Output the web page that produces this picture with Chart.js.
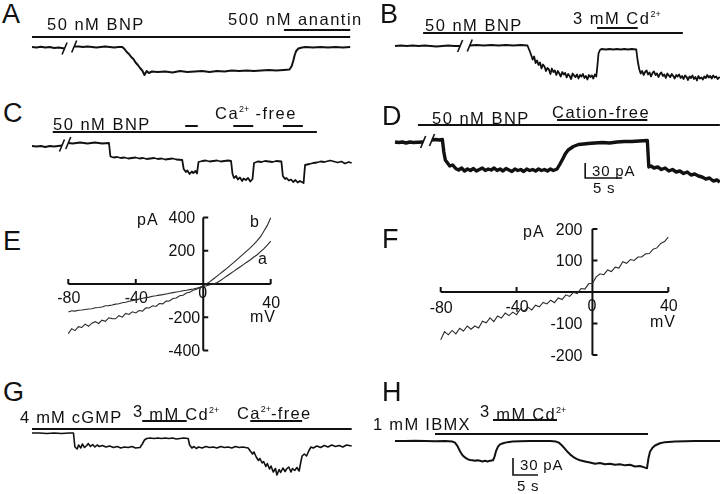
<!DOCTYPE html>
<html>
<head>
<meta charset="utf-8">
<script src="https://cdn.jsdelivr.net/npm/chart.js@4.4.0/dist/chart.umd.min.js"></script>
<style>
  body { margin: 0; background: #fff; }
  #fig { position: relative; width: 720px; height: 494px; overflow: hidden;
         font-family: "Liberation Sans", Arial, sans-serif; color: #111; }
  #fig canvas { position: absolute; }
  .t { position: absolute; white-space: nowrap; line-height: 1; z-index: 2; }
  .t sup { font-size: 9px; vertical-align: 7px; line-height: 0; letter-spacing: 0; }
</style>
</head>
<body>
<div id="fig"></div>
<script>
// ---- recordings: [time (s), current (pA)], null = break in the record ----
const traceA = [
  [0,0],[0.6,-1],[1.2,0.5],[1.8,-1],[2.4,0],[3.0,-2],[3.6,-1],[4.4,-3],[5,null],
  [5.7,1],[6.3,1],[6.9,0],[7.5,1],[8.1,0],[8.7,-1],[9.3,0],[9.9,1],[10.5,0],[11.1,-1],[11.7,0],[12.2,0],
  [12.5,-4],[12.8,-10],[13.1,-14],[13.4,-20],[13.7,-24],[14.0,-31],[14.3,-36],[14.6,-42],[14.9,-47],
  [15.2,-56],[15.5,-48],[15.8,-52],[16.2,-49],[17,-50],[18,-49],[19,-51],[20,-48],[21,-50],[22,-49],
  [23,-48],[24,-50],[25,-48],[26,-49],[27,-47],[28,-48],[29,-47],[30,-48],[31,-47],[32,-46],[33,-47],
  [34,-46],[34.8,-45],[35.1,-38],[35.3,-28],[35.5,-16],[35.7,-8],[36,-3],[36.5,-1],[37,0],[38,-1],
  [39,0],[40,-1],[41,0],[42,-1],[43,0]
];
const traceB = [
  [0,0],[0.8,1],[1.6,0],[2.4,1],[3.2,0],[4,1],[4.8,0],[5.6,-1],[6.4,0],[7.2,1],[8.0,0],[8.8,0],[9.4,null],
  [10.1,1],[11,2],[12,1],[13,2],[14,1],[15,2],[16,1],[17,2],[17.9,1],
  [18.2,-10],[18.4,-18],[18.6,-27],[18.8,-21],[19.0,-34],[19.2,-29],[19.4,-38],[19.6,-33],[19.8,-45],
  [20.0,-37],[20.2,-41],[20.4,-50],[20.6,-44],[20.8,-47],[21.0,-56],[21.2,-45],[21.4,-52],[21.6,-49],
  [21.8,-58],[22.0,-50],[22.2,-55],[22.4,-61],[22.6,-52],[22.8,-57],[23.0,-54],[23.2,-63],[23.4,-56],
  [23.6,-60],[23.8,-66],[24.0,-55],[24.2,-59],[24.4,-62],[24.6,-57],[24.8,-65],[25.0,-58],[25.2,-61],
  [25.4,-56],[25.6,-64],[25.8,-60],[26.0,-67],[26.2,-58],[26.4,-62],[26.6,-59],[26.8,-65],[27.0,-57],
  [27.2,-61],[27.35,-40],[27.5,-15],[27.7,-8],[27.9,-6],[28.5,-7],[29,-6],[29.5,-7],[30,-6],[30.5,-7],
  [31,-6],[31.5,-7],[32,-6],[32.6,-7],[32.8,-30],
  [33.0,-46],[33.2,-55],[33.4,-50],[33.6,-58],[33.8,-52],[34.0,-49],[34.2,-57],[34.4,-53],[34.6,-61],
  [34.8,-54],[35.0,-51],[35.2,-58],[35.4,-55],[35.6,-62],[35.8,-56],[36.0,-53],[36.2,-60],[36.4,-57],
  [36.6,-64],[36.8,-55],[37.0,-59],[37.2,-62],[37.4,-56],[37.6,-60],[37.8,-65],[38.0,-58],[38.2,-61],
  [38.4,-57],[38.6,-64],[38.8,-60],[39.0,-66],[39.2,-59],[39.4,-62],[39.6,-68],[39.8,-61],[40.0,-64],
  [40.2,-59],[40.4,-66],[40.6,-62],[40.8,-69],[41.0,-60],[41.2,-65],[41.4,-63],[41.6,-67],[41.8,-61],
  [42.0,-64],[42.2,-58],[42.4,-63],[42.6,-60],[42.8,-65],[43.0,-59],[43.2,-63],[43.4,-61],[43.6,-66],
  [43.9,-62]
];
const traceC = [
  [0,-6],[0.6,-7],[1.2,-6],[1.8,-8],[2.4,-6],[3.0,-7],[4.05,-5],[4.5,null],
  [4.9,0],[5.5,-1],[6,0],[6.5,1],[7,0],[7.5,-1],[8,0],[8.5,1],[9,0],[9.5,-1],[10.4,0],
  [10.6,-27],[11,-29],[11.5,-28],[12,-30],[12.5,-29],[13,-31],[13.5,-30],[14,-29],[14.5,-31],[15,-30],
  [15.5,-32],[16,-31],[16.5,-30],[17,-32],[17.5,-31],[18,-33],[18.5,-32],[19,-31],[19.5,-33],[20.3,-34],
  [20.5,-52],[20.8,-58],[21.0,-55],[21.3,-62],[21.6,-57],[21.8,-60],[22.1,-56],[22.3,-61],[22.5,-38],[23,-36],
  [23.5,-35],[24,-37],[24.5,-36],[25,-35],[25.5,-37],[26,-36],[26.5,-35],[26.9,-36],[27.1,-62],
  [27.3,-70],[27.6,-66],[27.8,-73],[28.1,-69],[28.4,-76],[28.6,-71],[28.9,-74],[29.2,-70],[29.5,-77],
  [29.8,-72],[30.0,-40],[30.5,-37],[31,-38],[31.5,-36],[32,-37],[32.5,-38],[33,-36],[33.7,-37],[33.9,-66],
  [34.2,-72],[34.4,-70],[34.7,-75],[35.0,-73],[35.3,-78],[35.6,-74],[35.9,-79],[36.2,-76],[36.7,-80],
  [36.9,-44],[37.5,-42],[38,-40],[38.5,-39],[39,-37],[39.5,-38],[40.3,-35],[40.8,-37],[41.3,-39],
  [41.8,-37],[42.3,-41],[42.8,-38],[43.2,-40]
];
const traceD = [
  [0,0],[0.5,-1],[1,0],[1.5,-2],[2,0],[2.5,-1],[3.8,0],[4.4,null],
  [5.0,4],[5.5,5],[6.0,4],[6.4,5],[6.6,-20],[6.8,-36],[7.1,-42],[7.4,-48],[7.8,-46],[8.2,-53],[8.6,-56],
  [9.0,-52],[9.4,-58],[9.8,-54],[10.2,-57],[10.6,-53],[11.0,-58],[11.4,-55],[11.8,-52],[12.2,-57],
  [12.6,-54],[13.0,-56],[13.4,-52],[13.8,-57],[14.2,-54],[14.6,-58],[15.0,-53],[15.4,-56],[15.8,-59],
  [16.2,-54],[16.6,-57],[17.0,-55],[17.4,-59],[17.8,-54],[18.2,-57],[18.6,-55],[19.0,-58],[19.4,-54],
  [19.8,-57],[20.2,-55],[20.6,-58],[21.0,-54],[21.4,-57],[21.9,-54],[22.3,-44],[22.7,-33],[23.0,-24],
  [23.4,-16],[24.1,-9],[24.8,-5],[25.5,-4],[26.1,-3],[27,-2],[28,-1],[29,-2],[30,0],[31,1],[32,1],
  [33,2],[34.1,3],[34.3,-50],[34.6,-48],[35.0,-52],[35.5,-50],[36,-55],[36.5,-52],[37,-58],[37.5,-55],
  [38,-60],[38.5,-58],[39,-63],[39.5,-60],[40,-66],[40.5,-64],[41,-68],[41.5,-70],[42,-74],[42.5,-72],
  [43,-78],[43.5,-76],[43.9,-80]
];
const traceG = [
  [0,0],[1,0],[2,-1],[3,0],[4,-1],[5,0],[5.6,0],[5.8,-28],[6.1,-32],[6.3,-24],[6.6,-30],[6.8,-22],
  [7.1,-29],[7.4,-25],[7.6,-21],[7.9,-27],[8.2,-23],[8.5,-28],[8.8,-24],[9.1,-27],[9.5,-25],[10,-28],[10.5,-26],
  [11,-29],[11.5,-27],[12,-30],[12.5,-28],[13,-29],[13.5,-27],[14,-30],[14.6,-29],[14.9,-22],[15.2,-14],
  [15.5,-11],[16,-10],[16.5,-11],[17,-10],[17.5,-11],[18,-10],[18.5,-11],[19,-10],[19.5,-12],[20,-11],
  [20.5,-10],[21.1,-11],[21.3,-24],[21.6,-30],[21.9,-27],[22.2,-31],[22.5,-28],[23,-30],[23.5,-27],
  [24,-29],[24.5,-28],[25,-30],[25.5,-27],[26,-29],[26.5,-28],[27,-30],[27.5,-27],[28,-29],[28.5,-28],
  [29.2,-30],[29.5,-36],[29.8,-42],[30.0,-38],[30.3,-48],[30.6,-55],[30.8,-51],[31.1,-60],[31.3,-57],
  [31.6,-67],[31.8,-61],[32.1,-72],[32.3,-66],[32.6,-78],[32.9,-71],[33.1,-84],[33.4,-73],[33.6,-79],
  [33.9,-70],[34.2,-77],[34.4,-72],[34.7,-68],[35.0,-78],[35.2,-71],[35.5,-75],[35.8,-69],[36.1,-76],
  [36.3,-60],[36.5,-46],[36.8,-42],[37.1,-46],[37.4,-36],[37.7,-28],[38.0,-30],[38.5,-26],[39,-29],
  [39.5,-25],[40,-28],[40.5,-24],[41,-27],[41.5,-25],[42,-28],[42.5,-24],[43.2,-26]
];
const traceH = [
  [0,0],[2,0],[4,0.5],[6,0],[8,-0.5],[10,0],[11.5,-1],[12,-3],[12.5,-9],[13,-18],[13.5,-25],[14,-29],
  [14.5,-32],[15,-33.5],[15.5,-34],[16,-35],[16.5,-34],[17,-35],[17.5,-36],[18,-35],[18.5,-36],[19,-35],
  [19.6,-34],[19.9,-28],[20.2,-18],[20.6,-10],[21,-6],[21.6,-4],[22.5,-2],[23.5,-1],[25,-0.5],[27,0],
  [29,0],[31,0],[32.2,-1],[32.8,-3],[33.4,-8],[34,-14],[34.6,-20],[35.2,-25],[35.8,-29],[36.4,-32],
  [37,-34],[38,-36],[39,-38],[40,-40],[41,-39],[42,-41],[43,-40],[44,-42],[45,-41],[46,-43],[47,-42],
  [48,-45],[49,-44],[50,-47],[50.4,-48],[50.7,-30],[51,-19],[51.5,-12],[52,-8],[53,-4],[54,-2],[56,-1],
  [58,-0.5],[60,0],[62,0],[65,0]
];

// ---- drug applications [on, off] in s ----
const aBnp = [0, 43], aAnantin = [34.05, 43];
const bBnp = [3.8, 38.9], bCd = [27.3, 32.8];
const cBnp = [2.8, 38.5], cCaFree = [[20.7, 22.4], [27.2, 29.9], [33.9, 36.6]];
const dBnp = [3.1, 43.9], dCationFree = [21.9, 34.1];
const gCgmp = [0, 43.2], gCd = [14.9, 20.9], gCaFree = [29.5, 36.5];
const hIbmx = [8, 50.6], hCd = [19.6, 32.4];
const scaleBar = [5, 30]; // s, pA

// ---- I-V curves ----
const ivVoltage = [-80,-78,-76,-74,-72,-70,-68,-66,-64,-62,-60,-58,-56,-54,-52,-50,-48,-46,-44,-42,
  -40,-38,-36,-34,-32,-30,-28,-26,-24,-22,-20,-18,-16,-14,-12,-10,-8,-6,-4,-2,
  0,2,4,6,8,10,12,14,16,18,20,22,24,26,28,30,32,34,36,38,40];
const eCurveA = [-168,-161,-163,-158,-156,-153,-150,-149,-143,-141,-138,-131,-130,-126,-121,-119,-113,-110,-104,-100,
  -94,-90,-86,-82,-79,-74,-71,-67,-64,-60,-56,-52,-48,-45,-41,-38,-34,-30,-25,-20,
  -15,-10,-5,0,8,20,34,48,62,76,90,104,118,132,146,162,176,194,212,234,258];
const eCurveB = [-298,-268,-280,-256,-261,-241,-254,-235,-226,-237,-217,-224,-203,-208,-209,-190,-199,-177,-183,-167,
  -174,-159,-163,-143,-144,-131,-135,-117,-119,-103,-102,-87,-84,-71,-68,-54,-50,-38,-32,-22,
  -10,2,14,30,46,62,78,94,112,128,146,164,182,200,218,238,260,284,318,352,398];
const fCurve = [-152,-126,-136,-122,-133,-115,-124,-108,-118,-108,-114,-93,-98,-82,-94,-76,-83,-67,-75,-64,
  -72,-54,-61,-48,-57,-42,-47,-33,-38,-26,-34,-19,-24,-9,-14,-1,-5,11,9,26,
  28,48,58,55,70,65,79,76,96,91,103,100,111,111,121,122,136,140,154,160,174];
const eXTicks = [-80, -40, 0, 40], eYTicks = [-400, -200, 200, 400];
const fXTicks = [-80, -40, 0, 40], fYTicks = [-200, -100, 100, 200];

const fig = document.getElementById('fig');
const INK = '#111';

function addCanvas(box) {
  const c = document.createElement('canvas');
  c.width = box.w; c.height = box.h;
  c.style.left = box.x + 'px'; c.style.top = box.y + 'px';
  fig.appendChild(c);
  return c;
}

function label(x, cy, html, size, spacing) {
  const d = document.createElement('div');
  d.className = 't';
  d.innerHTML = html;
  d.style.left = x + 'px';
  d.style.top = (cy - 0.4885 * size) + 'px';
  d.style.fontSize = size + 'px';
  d.style.letterSpacing = (spacing || 0) + 'px';
  fig.appendChild(d);
}

// trace panel: box = canvas on page, cal = where t=0 / 0 pA sit and px per s / per pA
function traceChart(box, cal, trace, width, extras) {
  const canvas = addCanvas(box);
  const marks = {
    id: 'marks',
    afterDatasetsDraw(chart) {
      const ctx = chart.ctx, xs = chart.scales.x, ys = chart.scales.y;
      ctx.save();
      ctx.strokeStyle = INK;
      ctx.lineWidth = 2;
      (extras.bars || []).forEach(b => {
        const y = b.y - box.y;
        ctx.beginPath();
        ctx.moveTo(xs.getPixelForValue(b.on[0]), y);
        ctx.lineTo(xs.getPixelForValue(b.on[1]), y);
        ctx.stroke();
      });
      // "//" where the record was cut
      ctx.lineWidth = 1.6;
      trace.forEach((p, i) => {
        if (p[1] !== null) return;
        [trace[i - 1], trace[i + 1]].forEach(q => {
          const px = xs.getPixelForValue(q[0]), py = ys.getPixelForValue(q[1]);
          ctx.beginPath();
          ctx.moveTo(px - 2.5, py + 6);
          ctx.lineTo(px + 2.5, py - 6);
          ctx.stroke();
        });
      });
      if (extras.scale) {
        const s = extras.scale;
        ctx.lineWidth = 1.6;
        ctx.beginPath();
        ctx.moveTo(xs.getPixelForValue(s.t), ys.getPixelForValue(s.pA + scaleBar[1]));
        ctx.lineTo(xs.getPixelForValue(s.t), ys.getPixelForValue(s.pA));
        ctx.lineTo(xs.getPixelForValue(s.t + scaleBar[0]), ys.getPixelForValue(s.pA));
        ctx.stroke();
      }
      ctx.restore();
    }
  };
  new Chart(canvas, {
    type: 'line',
    data: {
      datasets: [{
        data: trace.map(p => ({ x: p[0], y: p[1] })),
        borderColor: INK,
        borderWidth: width,
        borderJoinStyle: 'round',
        pointRadius: 0,
        tension: 0,
        spanGaps: false,
        clip: false
      }]
    },
    options: {
      responsive: false,
      animation: false,
      layout: { padding: 0 },
      scales: {
        x: { type: 'linear', display: false,
             min: (box.x - cal.x0) / cal.pxs, max: (box.x + box.w - cal.x0) / cal.pxs },
        y: { display: false,
             min: (cal.y0 - box.y - box.h) / cal.ppa, max: (cal.y0 - box.y) / cal.ppa }
      },
      plugins: { legend: { display: false }, tooltip: { enabled: false } }
    },
    plugins: [marks]
  });
}

// I-V panel with axes crossing at the origin
function ivChart(box, area, yRange, curves, xTicks, yTicks, style) {
  const canvas = addCanvas(box);
  const axes = {
    id: 'ivAxes',
    beforeDatasetsDraw(chart) {
      const ctx = chart.ctx, xs = chart.scales.x, ys = chart.scales.y;
      const x0 = xs.getPixelForValue(0), y0 = ys.getPixelForValue(0);
      ctx.save();
      ctx.strokeStyle = INK;
      ctx.fillStyle = INK;
      ctx.lineWidth = 2;
      ctx.beginPath();
      ctx.moveTo(xs.getPixelForValue(xTicks[0]), y0);
      ctx.lineTo(xs.getPixelForValue(xTicks[xTicks.length - 1]), y0);
      ctx.moveTo(x0, ys.getPixelForValue(yTicks[yTicks.length - 1]));
      ctx.lineTo(x0, ys.getPixelForValue(yTicks[0]));
      xTicks.forEach(v => {
        if (v === 0) return;
        const px = xs.getPixelForValue(v);
        ctx.moveTo(px, y0); ctx.lineTo(px, y0 - 5);
      });
      yTicks.forEach(v => {
        const py = ys.getPixelForValue(v);
        ctx.moveTo(x0, py); ctx.lineTo(x0 + 5, py);
      });
      ctx.stroke();
      ctx.font = '16px "Liberation Sans", Arial, sans-serif';
      ctx.textBaseline = 'alphabetic';
      ctx.textAlign = 'center';
      xTicks.forEach(v => {
        ctx.fillText(String(v), xs.getPixelForValue(v) + (v === 0 ? -0.5 : 0.5), y0 + style.xDy[v] + 5.7);
      });
      ctx.textAlign = 'right';
      yTicks.forEach(v => {
        ctx.fillText(String(v), x0 + (v > 0 ? style.yDxPos : style.yDxNeg), ys.getPixelForValue(v) + 5.7);
      });
      ctx.restore();
    }
  };
  new Chart(canvas, {
    type: 'line',
    data: {
      datasets: curves.map(c => ({
        data: ivVoltage.map((v, i) => ({ x: v, y: c[i] })),
        borderColor: '#2a2a2a',
        borderWidth: 1.1,
        pointRadius: 0,
        tension: 0,
        clip: false
      }))
    },
    options: {
      responsive: false,
      animation: false,
      layout: { padding: {
        left: area.l - box.x, right: box.x + box.w - area.r,
        top: area.t - box.y, bottom: box.y + box.h - area.b } },
      scales: {
        x: { type: 'linear', display: false, min: xTicks[0], max: xTicks[xTicks.length - 1] },
        y: { display: false, min: yRange[0], max: yRange[1] }
      },
      plugins: { legend: { display: false }, tooltip: { enabled: false } }
    },
    plugins: [axes]
  });
}

// ---- panels ----
traceChart({ x: 26, y: 22, w: 334, h: 62 }, { x0: 32, y0: 47, pxs: 7.4, ppa: 0.5 }, traceA, 2,
  { bars: [{ on: aBnp, y: 37 }, { on: aAnantin, y: 30 }] });
traceChart({ x: 388, y: 18, w: 332, h: 70 }, { x0: 395, y0: 46, pxs: 7.4, ppa: 0.5 }, traceB, 1.8,
  { bars: [{ on: bBnp, y: 33 }, { on: bCd, y: 28 }] });
traceChart({ x: 26, y: 118, w: 334, h: 72 }, { x0: 32, y0: 143, pxs: 7.4, ppa: 0.5 }, traceC, 1.8,
  { bars: [{ on: cBnp, y: 132 }].concat(cCaFree.map(p => ({ on: p, y: 126 }))) });
traceChart({ x: 388, y: 112, w: 332, h: 82 }, { x0: 395, y0: 142, pxs: 7.4, ppa: 0.5 }, traceD, 3.4,
  { bars: [{ on: dBnp, y: 125 }, { on: dCationFree, y: 120 }], scale: { t: 25.7, pA: -72 } });
traceChart({ x: 26, y: 414, w: 334, h: 72 }, { x0: 32, y0: 433, pxs: 7.4, ppa: 0.5 }, traceG, 1.6,
  { bars: [{ on: gCgmp, y: 429 }, { on: gCd, y: 421 }, { on: gCaFree, y: 421 }] });
traceChart({ x: 388, y: 412, w: 332, h: 72 }, { x0: 395, y0: 441, pxs: 5, ppa: 17 / 30 }, traceH, 2,
  { bars: [{ on: hIbmx, y: 434 }, { on: hCd, y: 420 }], scale: { t: 23.6, pA: -60 } });

ivChart({ x: 40, y: 205, w: 250, h: 160 }, { l: 68.3, r: 270.7, t: 217.4, b: 350.6 }, [-400, 400],
  [eCurveA, eCurveB], eXTicks, eYTicks,
  { xDy: { '-80': 13, '-40': 13, '0': 8, '40': 18 }, yDxPos: -8, yDxNeg: -3 });
ivChart({ x: 420, y: 215, w: 290, h: 150 }, { l: 440.7, r: 668.3, t: 229, b: 355 }, [-200, 200],
  [fCurve], fXTicks, fYTicks,
  { xDy: { '-80': 15, '-40': 14, '0': 13, '40': 13 }, yDxPos: -10, yDxNeg: -10 });

// ---- text ----
[['A', 2, 14], ['B', 380, 14], ['C', 3, 113.5], ['D', 382, 116],
 ['E', 3, 241], ['F', 382, 239], ['G', 3, 392.5], ['H', 382, 392.5]]
  .forEach(l => label(l[1], l[2], l[0], 27, 0));

const raised3 = '<span style="position:relative;top:-3px">3</span>';
label(47, 24, '50 nM BNP', 16.5, 1.5);
label(228, 19, '500 nM anantin', 16.5, 1.5);
label(425, 25, '50 nM BNP', 16.5, 1.5);
label(573, 18, '3 mM Cd<sup>2+</sup>', 16.5, 1.5);
label(53, 124, '50 nM BNP', 16.5, 1.5);
label(215, 113.5, 'Ca<sup>2+</sup> -free', 16.5, 1.5);
label(432, 118, '50 nM BNP', 16.5, 1.5);
label(552, 112, 'Cation-free', 16.5, 1.5);
label(20, 417, '4 mM cGMP', 16.5, 1.2);
label(133, 414, raised3 + ' mM Cd<sup>2+</sup>', 16.5, 1.3);
label(237, 413, 'Ca<sup>2+</sup>-free', 16.5, 1.3);
label(373, 424.5, '1 mM IBMX', 16.5, 1.3);
label(480, 414.5, raised3 + ' mM Cd<sup>2+</sup>', 16.5, 1.3);

label(592, 170, '30 pA', 15, 0.8);
label(593, 187.5, '5 s', 15, 0.8);
label(520, 464, '30 pA', 15, 0.8);
label(517, 485, '5 s', 15, 0.8);

label(137, 220, 'pA', 16, 1);
label(250, 317, 'mV', 16, 1);
label(250, 221.5, 'b', 16, 0);
label(258, 259, 'a', 16, 0);
label(523, 232, 'pA', 16, 1);
label(650, 322, 'mV', 16, 1);
</script>
</body>
</html>
